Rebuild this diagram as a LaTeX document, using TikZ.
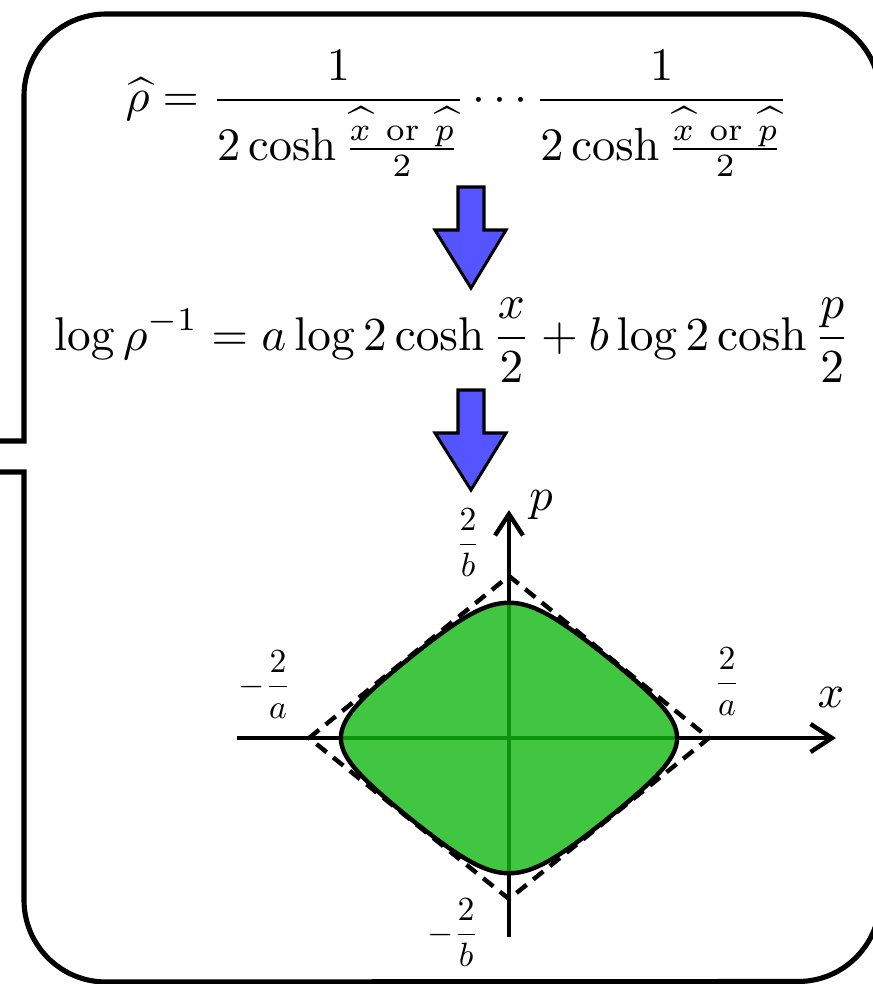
\documentclass[tikz,border=0pt]{standalone}
\usetikzlibrary{arrows.meta}
\definecolor{arrowblue}{RGB}{85,85,255}
\definecolor{regiongreen}{RGB}{16,184,16}
\begin{document}
\begin{tikzpicture}[x=0.215pt,y=0.215pt,
  frame/.style={line width=1.1pt, line join=miter},
  axisline/.style={line width=0.95pt, -{Straight Barb[length=4.6pt,width=6pt]}},
  diamondline/.style={line width=0.95pt, dash pattern=on 2.8pt off 1.8pt},
  region/.style={fill=regiongreen, fill opacity=0.8, draw=black, line width=0.95pt},
  downarrow/.style={fill=arrowblue, draw=black, line width=0.65pt, line join=miter},
  formula/.style={anchor=base, inner sep=0pt},
  bound/.style={anchor=base, inner sep=0pt, scale=0.725},
  axlabel/.style={inner sep=0pt}
]
\useasboundingbox (0,0) rectangle (873,984);
\clip (0,0) rectangle (873,984);

% frame with pointer notch on the left
\draw[frame] (-10,512) -- (24,512) -- (24,84)
  arc[start angle=180,end angle=270,radius=82] -- (798,2.5)
  arc[start angle=270,end angle=360,radius=82] -- (880,888)
  arc[start angle=0,end angle=90,radius=82] -- (106,970)
  arc[start angle=90,end angle=180,radius=82] -- (24,543) -- (-10,543);

% formulas
\node[formula] (rho) at (457,872.4) {$\displaystyle \widehat{\rho} = \frac{1}{2\cosh\frac{\widehat{x}\ \mathrm{or}\ \widehat{p}}{2}}\cdots\frac{1}{2\cosh\frac{\widehat{x}\ \mathrm{or}\ \widehat{p}}{2}}$};
\node[formula, scale=1.017] (logrho) at (452,634) {$\displaystyle \log\rho^{-1} = a\log 2\cosh\frac{x}{2} + b\log 2\cosh\frac{p}{2}$};

% blue arrows
\draw[downarrow] (458,797) -- (484,797) -- (484,754) -- (506,754) -- (471,696) -- (435,754) -- (458,754) -- cycle;
\draw[downarrow] (458,594) -- (484,594) -- (484,551) -- (506,551) -- (471,494) -- (435,551) -- (458,551) -- cycle;

% axes
\coordinate (o) at (509,246);
\coordinate (xs) at (237,246);
\coordinate (xe) at (836,246);
\coordinate (ys) at (509,47);
\coordinate (ye) at (509,474);
\draw[axisline] (xs) -- (xe);
\draw[axisline] (ys) -- (ye);

% dashed asymptotic diamond
\coordinate (dl) at (309,246);
\coordinate (dt) at (509,408);
\coordinate (dr) at (709,246);
\coordinate (db) at (509,85);
\draw[diamondline] (dl) -- (dt) -- (dr) -- (db) -- cycle;

% level curve a log 2cosh(x/2) + b log 2cosh(p/2) = const
\def\sz{3.646}
\def\sX{46.1}
\def\sY{37.1}
\pgfmathsetmacro\ch{cosh(\sz)}
\path[region] plot[domain=-90:90,samples=181,variable=\t]
   ({509+\sX*\sz*sin(\t)},
    {246+\sY*ln(\ch/cosh(\sz*sin(\t))+sqrt(max((\ch/cosh(\sz*sin(\t)))^2-1,0)))})
 -- plot[domain=90:-90,samples=181,variable=\t]
   ({509+\sX*\sz*sin(\t)},
    {246-\sY*ln(\ch/cosh(\sz*sin(\t))+sqrt(max((\ch/cosh(\sz*sin(\t)))^2-1,0)))})
 -- cycle;

% labels
\node[bound] (tb) at (468,431) {$\displaystyle\frac{2}{b}$};
\node[bound] (bb) at (453,41) {$\displaystyle-\frac{2}{b}$};
\node[bound] (la) at (265,289) {$\displaystyle-\frac{2}{a}$};
\node[bound] (ra) at (727,292) {$\displaystyle\frac{2}{a}$};
\node[axlabel] (xl) at (831,287) {$x$};
\node[axlabel] (pl) at (541,479) {$p$};
\end{tikzpicture}
\end{document}
